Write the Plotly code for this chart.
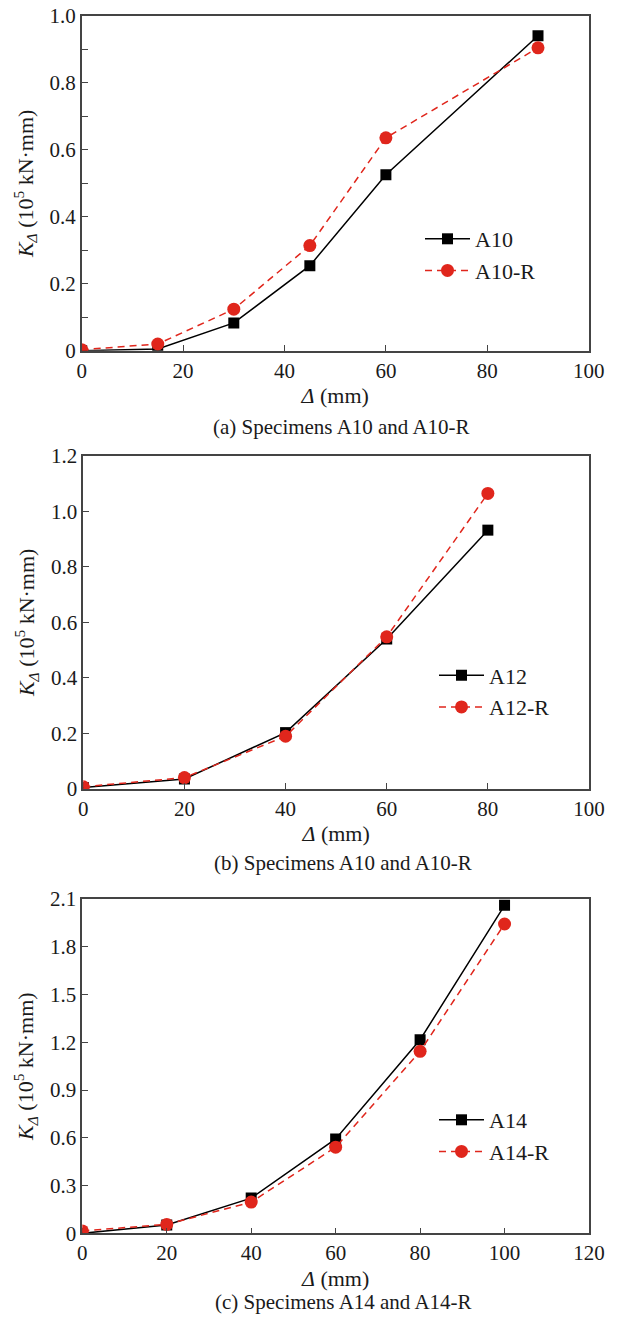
import plotly.graph_objects as go

# ---------------- data ----------------
# Panel (a)
xa = [0, 15, 30, 45, 60, 90]
a10 = [0.0, 0.005, 0.083, 0.254, 0.526, 0.941]
a10r = [0.003, 0.020, 0.124, 0.314, 0.636, 0.905]
# Panel (b)
xb = [0, 20, 40, 60, 80]
a12 = [0.005, 0.036, 0.203, 0.540, 0.932]
a12r = [0.008, 0.041, 0.190, 0.548, 1.064]
# Panel (c)
xc = [0, 20, 40, 60, 80, 100]
a14 = [0.0, 0.052, 0.221, 0.593, 1.216, 2.060]
a14r = [0.015, 0.056, 0.196, 0.541, 1.143, 1.943]

# tick labels
xticks_ab = [0, 20, 40, 60, 80, 100]
xticks_c = [0, 20, 40, 60, 80, 100, 120]
yticks_a = [0, 0.2, 0.4, 0.6, 0.8, 1.0]
yticktext_a = ["0", "0.2", "0.4", "0.6", "0.8", "1.0"]
yticks_b = [0, 0.2, 0.4, 0.6, 0.8, 1.0, 1.2]
yticktext_b = ["0", "0.2", "0.4", "0.6", "0.8", "1.0", "1.2"]
yticks_c = [0, 0.3, 0.6, 0.9, 1.2, 1.5, 1.8, 2.1]
yticktext_c = ["0", "0.3", "0.6", "0.9", "1.2", "1.5", "1.8", "2.1"]

captions = ["(a) Specimens A10 and A10-R",
            "(b) Specimens A10 and A10-R",
            "(c) Specimens A14 and A14-R"]

# ---------------- style ----------------
FONT = "Liberation Serif"
TXT = "#1a1a1a"
BLACK = "#000000"
RED = "#e0261c"
AXIS = "#444444"
W, H = 618, 1319

def py(pix):
    return 1 - pix / H

def px(pix):
    return pix / W

fig = go.Figure()

panels = [
    dict(x=xa, s1=a10, s2=a10r, n1="A10", n2="A10-R", xi="x", yi="y", leg="legend"),
    dict(x=xb, s1=a12, s2=a12r, n1="A12", n2="A12-R", xi="x2", yi="y2", leg="legend2"),
    dict(x=xc, s1=a14, s2=a14r, n1="A14", n2="A14-R", xi="x3", yi="y3", leg="legend3"),
]

for p in panels:
    fig.add_trace(go.Scatter(
        x=p["x"], y=p["s1"], name=p["n1"], mode="lines+markers",
        line=dict(color=BLACK, width=1.5),
        marker=dict(symbol="square", size=11, color=BLACK),
        xaxis=p["xi"], yaxis=p["yi"], legend=p["leg"]))
    fig.add_trace(go.Scatter(
        x=p["x"], y=p["s2"], name=p["n2"], mode="lines+markers",
        line=dict(color=RED, width=1.5, dash="7px,5px"),
        marker=dict(symbol="circle", size=13, color=RED),
        xaxis=p["xi"], yaxis=p["yi"], legend=p["leg"]))

# domains (pixel-derived)
doms = [
    dict(x=[px(81.7), px(588.7)], y=[py(350.7), py(16)]),
    dict(x=[px(83.3), px(589)], y=[py(789), py(455.7)]),
    dict(x=[px(82.3), px(589)], y=[py(1233.3), py(899)]),
]

ytitle = "<i>K</i><sub><i>Δ</i></sub> (10<sup>5</sup> kN·mm)"
xtitle = "<i>Δ</i> (mm)"

common_axis = dict(
    showline=True, linecolor=AXIS, linewidth=1.6, mirror=True,
    ticks="inside", ticklen=6, tickwidth=1.4, tickcolor=AXIS,
    showgrid=False, zeroline=False,
    tickfont=dict(family=FONT, size=21, color=TXT),
    automargin=False,
)

xranges = [[0, 100], [0, 100], [0, 120]]
yranges = [[0, 1.0], [0, 1.2], [0, 2.1]]
xtv = [xticks_ab, xticks_ab, xticks_c]
ytv = [yticks_a, yticks_b, yticks_c]
ytt = [yticktext_a, yticktext_b, yticktext_c]

layout = {}
for i in range(3):
    xk = "xaxis" if i == 0 else f"xaxis{i+1}"
    yk = "yaxis" if i == 0 else f"yaxis{i+1}"
    xa_ref = "x" if i == 0 else f"x{i+1}"
    ya_ref = "y" if i == 0 else f"y{i+1}"
    xd = dict(common_axis)
    xd.update(domain=doms[i]["x"], range=xranges[i], anchor=ya_ref,
              tickvals=xtv[i], ticktext=[str(v) for v in xtv[i]],
              title=dict(text=xtitle, font=dict(family=FONT, size=22, color=TXT), standoff=6))
    yd = dict(common_axis)
    yd.update(domain=doms[i]["y"], range=yranges[i], anchor=xa_ref,
              tickvals=ytv[i], ticktext=ytt[i],
              title=dict(text=ytitle, font=dict(family=FONT, size=22, color=TXT), standoff=10))
    if i == 0:
        yd["minor"] = dict(ticks="inside", dtick=0.1, ticklen=6, tickwidth=1.4, tickcolor=AXIS, showgrid=False)
    layout[xk] = xd
    layout[yk] = yd

fig.update_layout(**layout)

leg_common = dict(
    font=dict(family=FONT, size=22, color=TXT),
    bgcolor="rgba(0,0,0,0)", borderwidth=0,
    xanchor="left", yanchor="middle", itemwidth=45,
    tracegroupgap=0,
)
fig.update_layout(
    legend=dict(leg_common, x=px(420), y=py(255)),
    legend2=dict(leg_common, x=px(434), y=py(691.5)),
    legend3=dict(leg_common, x=px(434), y=py(1136)),
)

cap_y = [427, 863, 1301.7]
cap_x = [341, 343, 343]
for i in range(3):
    fig.add_annotation(text=captions[i], xref="paper", yref="paper",
                       x=px(cap_x[i]), y=py(cap_y[i]), xanchor="center", yanchor="middle",
                       showarrow=False, font=dict(family=FONT, size=21, color=TXT))

fig.update_layout(
    width=W, height=H, margin=dict(l=0, r=0, t=0, b=0),
    paper_bgcolor="white", plot_bgcolor="white", showlegend=True,
    font=dict(family=FONT, color=TXT),
)

fig.write_html("out.html")
